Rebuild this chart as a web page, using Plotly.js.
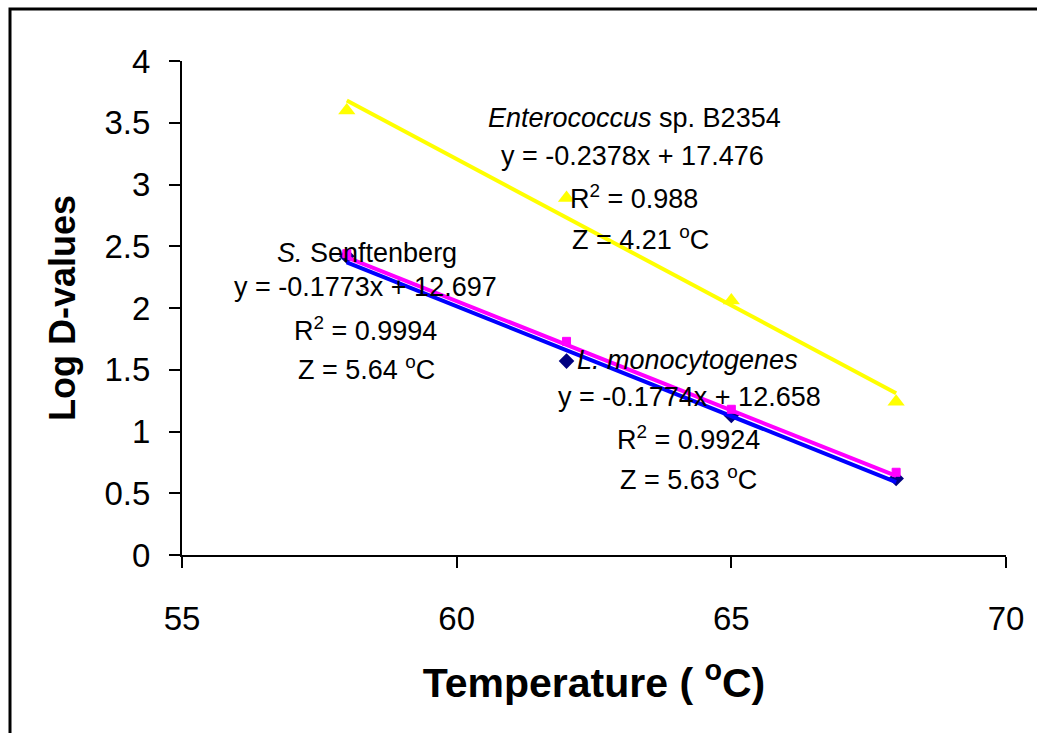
<!DOCTYPE html>
<html>
<head>
<meta charset="utf-8">
<script src="https://cdn.plot.ly/plotly-3.0.1.min.js"></script>
<style>html,body{margin:0;padding:0;background:#fff;overflow:hidden}</style>
</head>
<body>
<div id="chart" style="width:1037px;height:733px"></div>
<script>
// Data
var temperatures = [58, 62, 65, 68];
var enterococcusLogD = [3.60, 2.89, 2.06, 1.24];
var listeriaLogD = [2.42, 1.57, 1.13, 0.62];
var salmonellaLogD = [2.44, 1.73, 1.18, 0.67];

// Linear trendline end points (at 58 and 68 °C)
var trendX = [58, 68];
var enterococcusTrend = [3.68, 1.31];
var listeriaTrend = [2.37, 0.59];
var salmonellaTrend = [2.41, 0.64];

var xTicks = [55, 60, 65, 70];
var yTicks = [0, 0.5, 1, 1.5, 2, 2.5, 3, 3.5, 4];
var yTickLabels = ['0', '0.5', '1', '1.5', '2', '2.5', '3', '3.5', '4'];

var labelEnterococcus = ['<i>Enterococcus</i> sp. B2354', 'y = -0.2378x + 17.476', 'R<sup>2</sup> = 0.988', 'Z = 4.21 <sup>o</sup>C'];
var labelSalmonella = ['<i>S.</i> Senftenberg', 'y = -0.1773x + 12.697', 'R<sup>2</sup> = 0.9994', 'Z = 5.64 <sup>o</sup>C'];
var labelListeria = ['<i>L. monocytogenes</i>', 'y = -0.1774x + 12.658', 'R<sup>2</sup> = 0.9924', 'Z = 5.63 <sup>o</sup>C'];

var W = 1037, H = 733;
var M = {l: 182, r: 31, t: 61, b: 178};
function px2x(px) { return 55 + (px - M.l) / (W - M.l - M.r) * 15; }
function py2y(py) { return (H - M.b - py) / (H - M.t - M.b) * 4; }
function pxPaper(px) { return (px - M.l) / (W - M.l - M.r); }
function pyPaper(py) { return (H - M.b - py) / (H - M.t - M.b); }

var traces = [
  {x: temperatures, y: enterococcusLogD, mode: 'markers', type: 'scatter',
   marker: {symbol: 'triangle-up', size: 15, color: '#FFFF00'}},
  {x: temperatures, y: listeriaLogD, mode: 'markers', type: 'scatter',
   marker: {symbol: 'diamond', size: 12, color: '#000080'}},
  {x: trendX, y: listeriaTrend, mode: 'lines', type: 'scatter',
   line: {color: '#0000FF', width: 4}},
  {x: temperatures, y: salmonellaLogD, mode: 'markers', type: 'scatter',
   marker: {symbol: 'square', size: 8, color: '#FF00FF', line: {color: '#FF00FF', width: 1}}},
  {x: trendX, y: salmonellaTrend, mode: 'lines', type: 'scatter',
   line: {color: '#FF00FF', width: 4}},
  {x: trendX, y: enterococcusTrend, mode: 'lines', type: 'scatter',
   line: {color: '#FFFF00', width: 4}}
];

function block(lines, cx, ys) {
  return lines.map(function (t, i) {
    return {text: t, x: px2x(cx[i]), y: py2y(ys[i]), xref: 'x', yref: 'y',
      showarrow: false, xanchor: 'center', yanchor: 'middle',
      font: {family: 'Liberation Sans, Arial, sans-serif', size: 27, color: '#000'}};
  });
}

var annotations = []
  .concat(block(labelEnterococcus, [634, 632, 634, 640], [118, 156, 197, 238]))
  .concat(block(labelSalmonella, [367, 365, 365, 366], [253, 287, 329, 368]))
  .concat(block(labelListeria, [687, 689, 688, 688], [360, 397, 438, 478]));

var axisFont = {family: 'Liberation Sans, Arial, sans-serif', size: 33, color: '#000'};

var layout = {
  width: W, height: H,
  margin: M,
  paper_bgcolor: '#fff', plot_bgcolor: '#fff',
  showlegend: false,
  xaxis: {
    range: [55, 70], tickvals: xTicks, ticktext: xTicks.map(String),
    showgrid: false, zeroline: false, showline: true, linecolor: '#000', linewidth: 2,
    ticks: 'outside', ticklen: 11, tickwidth: 2, tickcolor: '#000',
    tickfont: axisFont, ticklabelstandoff: 22,
    title: {text: '<b>Temperature ( <sup>o</sup>C)</b>',
      font: {family: 'Liberation Sans, Arial, sans-serif', size: 41, color: '#000', weight: 'bold'}, standoff: 33},
    automargin: false, fixedrange: true
  },
  yaxis: {
    range: [0, 4], tickvals: yTicks, ticktext: yTickLabels,
    showgrid: false, zeroline: false, showline: true, linecolor: '#000', linewidth: 2,
    ticks: 'outside', ticklen: 11, tickwidth: 2, tickcolor: '#000',
    tickfont: axisFont, ticklabelstandoff: 12,
    title: {text: '<b>Log D-values</b>',
      font: {family: 'Liberation Sans, Arial, sans-serif', size: 36, color: '#000', weight: 'bold'}, standoff: 18},
    automargin: false, fixedrange: true
  },
  annotations: annotations,
  shapes: [{
    type: 'rect', xref: 'paper', yref: 'paper',
    x0: pxPaper(10), x1: pxPaper(1060), y0: pyPaper(760), y1: pyPaper(9),
    line: {color: '#000', width: 3}, fillcolor: 'rgba(0,0,0,0)', layer: 'below'
  }]
};

Plotly.newPlot('chart', traces, layout, {staticPlot: true, displayModeBar: false});
</script>
</body>
</html>
